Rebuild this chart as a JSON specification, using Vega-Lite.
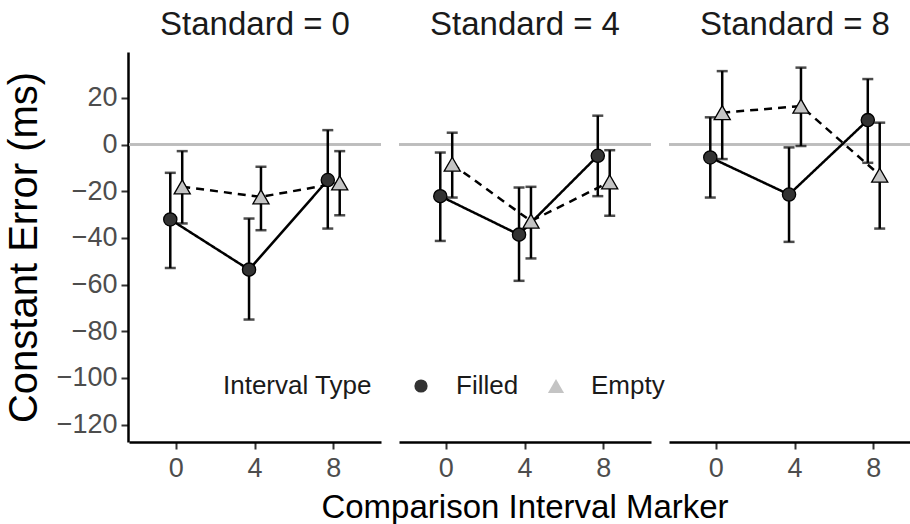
{
  "$schema": "https://vega.github.io/schema/vega-lite/v6.json",
  "padding": {"left": 4, "top": 9, "right": 0, "bottom": 0},
  "background": "white",
  "data": {
    "values": [
      {"standard": 0, "comparison": "0", "type": "Filled", "mean": -32.1, "lower": -52.9, "upper": -12.1},
      {"standard": 0, "comparison": "0", "type": "Empty", "mean": -18.1, "lower": -33.8, "upper": -2.8},
      {"standard": 0, "comparison": "4", "type": "Filled", "mean": -53.6, "lower": -75.0, "upper": -31.7},
      {"standard": 0, "comparison": "4", "type": "Empty", "mean": -22.4, "lower": -36.7, "upper": -9.5},
      {"standard": 0, "comparison": "8", "type": "Filled", "mean": -15.2, "lower": -36.0, "upper": 6.2},
      {"standard": 0, "comparison": "8", "type": "Empty", "mean": -16.4, "lower": -30.3, "upper": -2.8},
      {"standard": 4, "comparison": "0", "type": "Filled", "mean": -22.1, "lower": -41.3, "upper": -3.4},
      {"standard": 4, "comparison": "0", "type": "Empty", "mean": -8.4, "lower": -22.7, "upper": 5.1},
      {"standard": 4, "comparison": "4", "type": "Filled", "mean": -38.6, "lower": -58.4, "upper": -18.4},
      {"standard": 4, "comparison": "4", "type": "Empty", "mean": -32.8, "lower": -48.8, "upper": -18.1},
      {"standard": 4, "comparison": "8", "type": "Filled", "mean": -4.8, "lower": -22.1, "upper": 12.4},
      {"standard": 4, "comparison": "8", "type": "Empty", "mean": -16.0, "lower": -30.5, "upper": -2.4},
      {"standard": 8, "comparison": "0", "type": "Filled", "mean": -5.5, "lower": -22.7, "upper": 11.7},
      {"standard": 8, "comparison": "0", "type": "Empty", "mean": 13.7, "lower": -6.2, "upper": 31.5},
      {"standard": 8, "comparison": "4", "type": "Filled", "mean": -21.4, "lower": -41.7, "upper": -1.2},
      {"standard": 8, "comparison": "4", "type": "Empty", "mean": 16.5, "lower": -0.6, "upper": 33.0},
      {"standard": 8, "comparison": "8", "type": "Filled", "mean": 10.5, "lower": -7.8, "upper": 28.1},
      {"standard": 8, "comparison": "8", "type": "Empty", "mean": -13.1, "lower": -36.0, "upper": 9.4}
    ]
  },
  "facet": {
    "column": {
      "field": "standard",
      "type": "ordinal",
      "title": "Comparison Interval Marker",
      "header": {
        "labelExpr": "'Standard = ' + datum.value",
        "labelOrient": "top",
        "labelFontSize": 33,
        "labelFont": "Liberation Sans",
        "labelColor": "#1a1a1a",
        "labelPadding": 10,
        "titleOrient": "bottom",
        "titleFontSize": 33,
        "titleFont": "Liberation Sans",
        "titleFontWeight": "normal",
        "titleColor": "black",
        "titlePadding": 1
      }
    }
  },
  "spacing": 16,
  "resolve": {"scale": {"x": "shared", "y": "shared"}},
  "spec": {
    "width": 252,
    "height": 390,
    "encoding": {
      "x": {
        "field": "comparison",
        "type": "ordinal",
        "sort": ["0", "4", "8"],
        "scale": {"type": "band", "paddingInner": 0, "paddingOuter": 0.1},
        "axis": {"title": null, "labelAngle": 0, "labelPadding": 6}
      },
      "xOffset": {
        "field": "type",
        "type": "nominal",
        "scale": {"type": "band", "paddingInner": 0, "paddingOuter": 0.3, "domain": ["_a", "_b", "Filled", "Empty", "_c", "_d"]}
      }
    },
    "layer": [
      {
        "mark": {"type": "rule", "color": "#bdbdbd", "strokeWidth": 2},
        "encoding": {
          "x": null,
          "xOffset": null,
          "y": {"datum": 0, "type": "quantitative"}
        }
      },
      {
        "mark": {"type": "rule", "color": "black", "strokeWidth": 2.5},
        "encoding": {
          "y": {
            "field": "lower",
            "type": "quantitative",
            "scale": {"domain": [-127.5, 39.7], "nice": false, "zero": false},
            "axis": {
              "title": "Constant Error (ms)",
              "values": [-120, -100, -80, -60, -40, -20, 0, 20]
            }
          },
          "y2": {"field": "upper"}
        }
      },
      {
        "mark": {"type": "tick", "color": "black", "thickness": 2.5, "size": 11},
        "encoding": {"y": {"field": "lower", "type": "quantitative"}}
      },
      {
        "mark": {"type": "tick", "color": "black", "thickness": 2.5, "size": 11},
        "encoding": {"y": {"field": "upper", "type": "quantitative"}}
      },
      {
        "mark": {"type": "line", "color": "black", "strokeWidth": 2.5},
        "encoding": {
          "y": {"field": "mean", "type": "quantitative"},
          "detail": {"field": "type"},
          "strokeDash": {
            "field": "type",
            "type": "nominal",
            "title": "Interval Type",
            "scale": {"domain": ["Filled", "Empty"], "range": [[1, 0], [8, 6]]}
          }
        }
      },
      {
        "mark": {"type": "point", "filled": true, "stroke": "black", "strokeWidth": 1.3, "opacity": 1},
        "encoding": {
          "y": {"field": "mean", "type": "quantitative"},
          "shape": {
            "field": "type",
            "type": "nominal",
            "title": "Interval Type",
            "scale": {"domain": ["Filled", "Empty"], "range": ["circle", "triangle-up"]}
          },
          "size": {
            "field": "type",
            "type": "nominal",
            "title": "Interval Type",
            "scale": {"domain": ["Filled", "Empty"], "range": [175, 260]}
          },
          "fill": {
            "field": "type",
            "type": "nominal",
            "title": "Interval Type",
            "scale": {"domain": ["Filled", "Empty"], "range": ["#333333", "#c4c4c4"]},
            "legend": {
              "orient": "none",
              "legendX": 94,
              "legendY": 321,
              "direction": "horizontal",
              "zindex": 5
            }
          }
        }
      }
    ]
  },
  "config": {
    "font": "Liberation Sans",
    "view": {"stroke": null},
    "axis": {
      "domainColor": "black",
      "domainWidth": 2.5,
      "tickColor": "#333333",
      "tickWidth": 2,
      "tickSize": 7,
      "labelFontSize": 27,
      "labelColor": "#4d4d4d",
      "labelPadding": 4,
      "titleFontSize": 33,
      "titleFontWeight": "normal",
      "titleColor": "black",
      "grid": false
    },
    "axisY": {"titlePadding": 12, "titleFontSize": 40},
    "legend": {
      "titleOrient": "left",
      "titleFontSize": 26,
      "titleFontWeight": "normal",
      "titleColor": "#1a1a1a",
      "titlePadding": 36,
      "labelFontSize": 26,
      "labelColor": "#1a1a1a",
      "labelOffset": 22,
      "columnPadding": 24,
      "symbolSize": 170,
      "symbolStrokeColor": "black",
      "symbolStrokeWidth": 2
    }
  }
}
